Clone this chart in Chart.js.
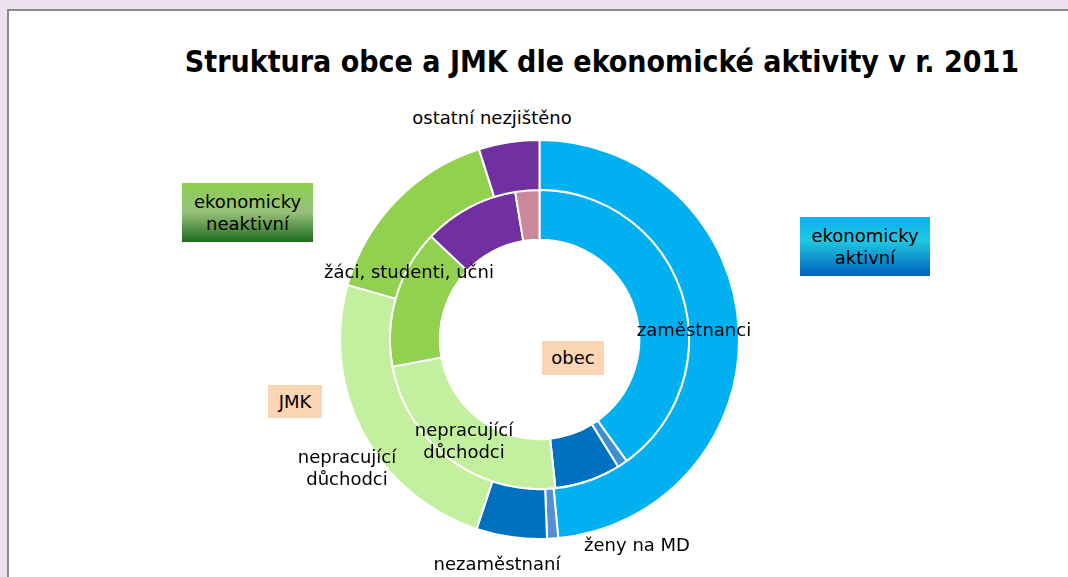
<!DOCTYPE html>
<html><head><meta charset="utf-8">
<script src="https://cdn.jsdelivr.net/npm/chart.js@4/dist/chart.umd.min.js"></script>
<style>
html,body{margin:0;padding:0;width:1068px;height:577px;overflow:hidden;background:#EEE0F0;}
#panel{position:absolute;left:7px;top:9px;width:1100px;height:600px;background:#fff;border-left:2px solid #8C8C8C;border-top:2px solid #8C8C8C;}
.t{position:absolute;font-family:"DejaVu Sans",sans-serif;color:#000;white-space:nowrap;}
#title{left:0;width:1204px;top:44px;text-align:center;font-weight:bold;font-size:30px;font-family:"DejaVu Sans Condensed","DejaVu Sans",sans-serif;}
.lbl{font-size:18px;line-height:22px;text-align:center;transform:translateX(-50%);}
.box{position:absolute;font-family:"DejaVu Sans",sans-serif;font-size:18px;line-height:22px;text-align:center;display:flex;align-items:center;justify-content:center;}
#wrap{position:absolute;left:339px;top:139px;width:401px;height:401px;}
</style></head>
<body>
<div id="panel"></div>
<div id="wrap"><canvas id="c"></canvas></div>
<div class="t" id="title">Struktura obce a JMK dle ekonomické aktivity v r. 2011</div>
<div class="t lbl" style="left:492px;top:107px;">ostatní nezjištěno</div>
<div class="box" style="left:182px;top:183px;width:131px;height:59px;background:linear-gradient(#8ED04E 0%,#97C07A 50%,#1B6B1B 100%);">ekonomicky<br>neaktivní</div>
<div class="box" style="left:800px;top:217px;width:130px;height:59px;background:linear-gradient(#08B0F0 0%,#20C8E0 40%,#0060C0 100%);">ekonomicky<br>aktivní</div>
<div class="box" style="left:542px;top:341px;width:62px;height:34px;background:#FCD5B4;">obec</div>
<div class="box" style="left:268px;top:385px;width:54px;height:33px;background:#FCD5B4;">JMK</div>
<div class="t lbl" style="left:694px;top:319px;">zaměstnanci</div>
<div class="t lbl" style="left:409px;top:261px;">žáci, studenti, učni</div>
<div class="t lbl" style="left:464px;top:419px;">nepracující<br>důchodci</div>
<div class="t lbl" style="left:347px;top:446px;">nepracující<br>důchodci</div>
<div class="t lbl" style="left:637px;top:534px;">ženy na MD</div>
<div class="t lbl" style="left:497px;top:553px;">nezaměstnaní</div>
<script>
const categories = ['zaměstnanci','ženy na MD','nezaměstnaní','nepracující důchodci','žáci, studenti, učni','ostatní','nezjištěno'];
const jmkValues  = [48.5, 0.9, 5.7, 24.3, 15.7, 4.9, 0];
const obecValues = [40.1, 1.1, 7.1, 23.8, 15.0, 10.3, 2.6];
const jmkColors  = ['#00B0F0','#558ED5','#0070C0','#C3F09E','#92D050','#7030A0','#C9899B'];
const obecColors = ['#00B0F0','#3B8FD0','#0070C0','#C3F09E','#92D050','#7030A0','#C9899B'];
new Chart(document.getElementById('c'), {
  type: 'doughnut',
  data: {
    labels: categories,
    datasets: [
      {label:'JMK', data: jmkValues, backgroundColor: jmkColors, borderColor:'#fff', borderWidth:2},
      {label:'obec', data: obecValues, backgroundColor: obecColors, borderColor:'#fff', borderWidth:2}
    ]
  },
  options: {
    responsive:true, maintainAspectRatio:false, animation:false,
    cutout:'50%',
    layout:{padding:0},
    plugins:{legend:{display:false}, tooltip:{enabled:false}, title:{display:false}}
  }
});
</script>
</body></html>
